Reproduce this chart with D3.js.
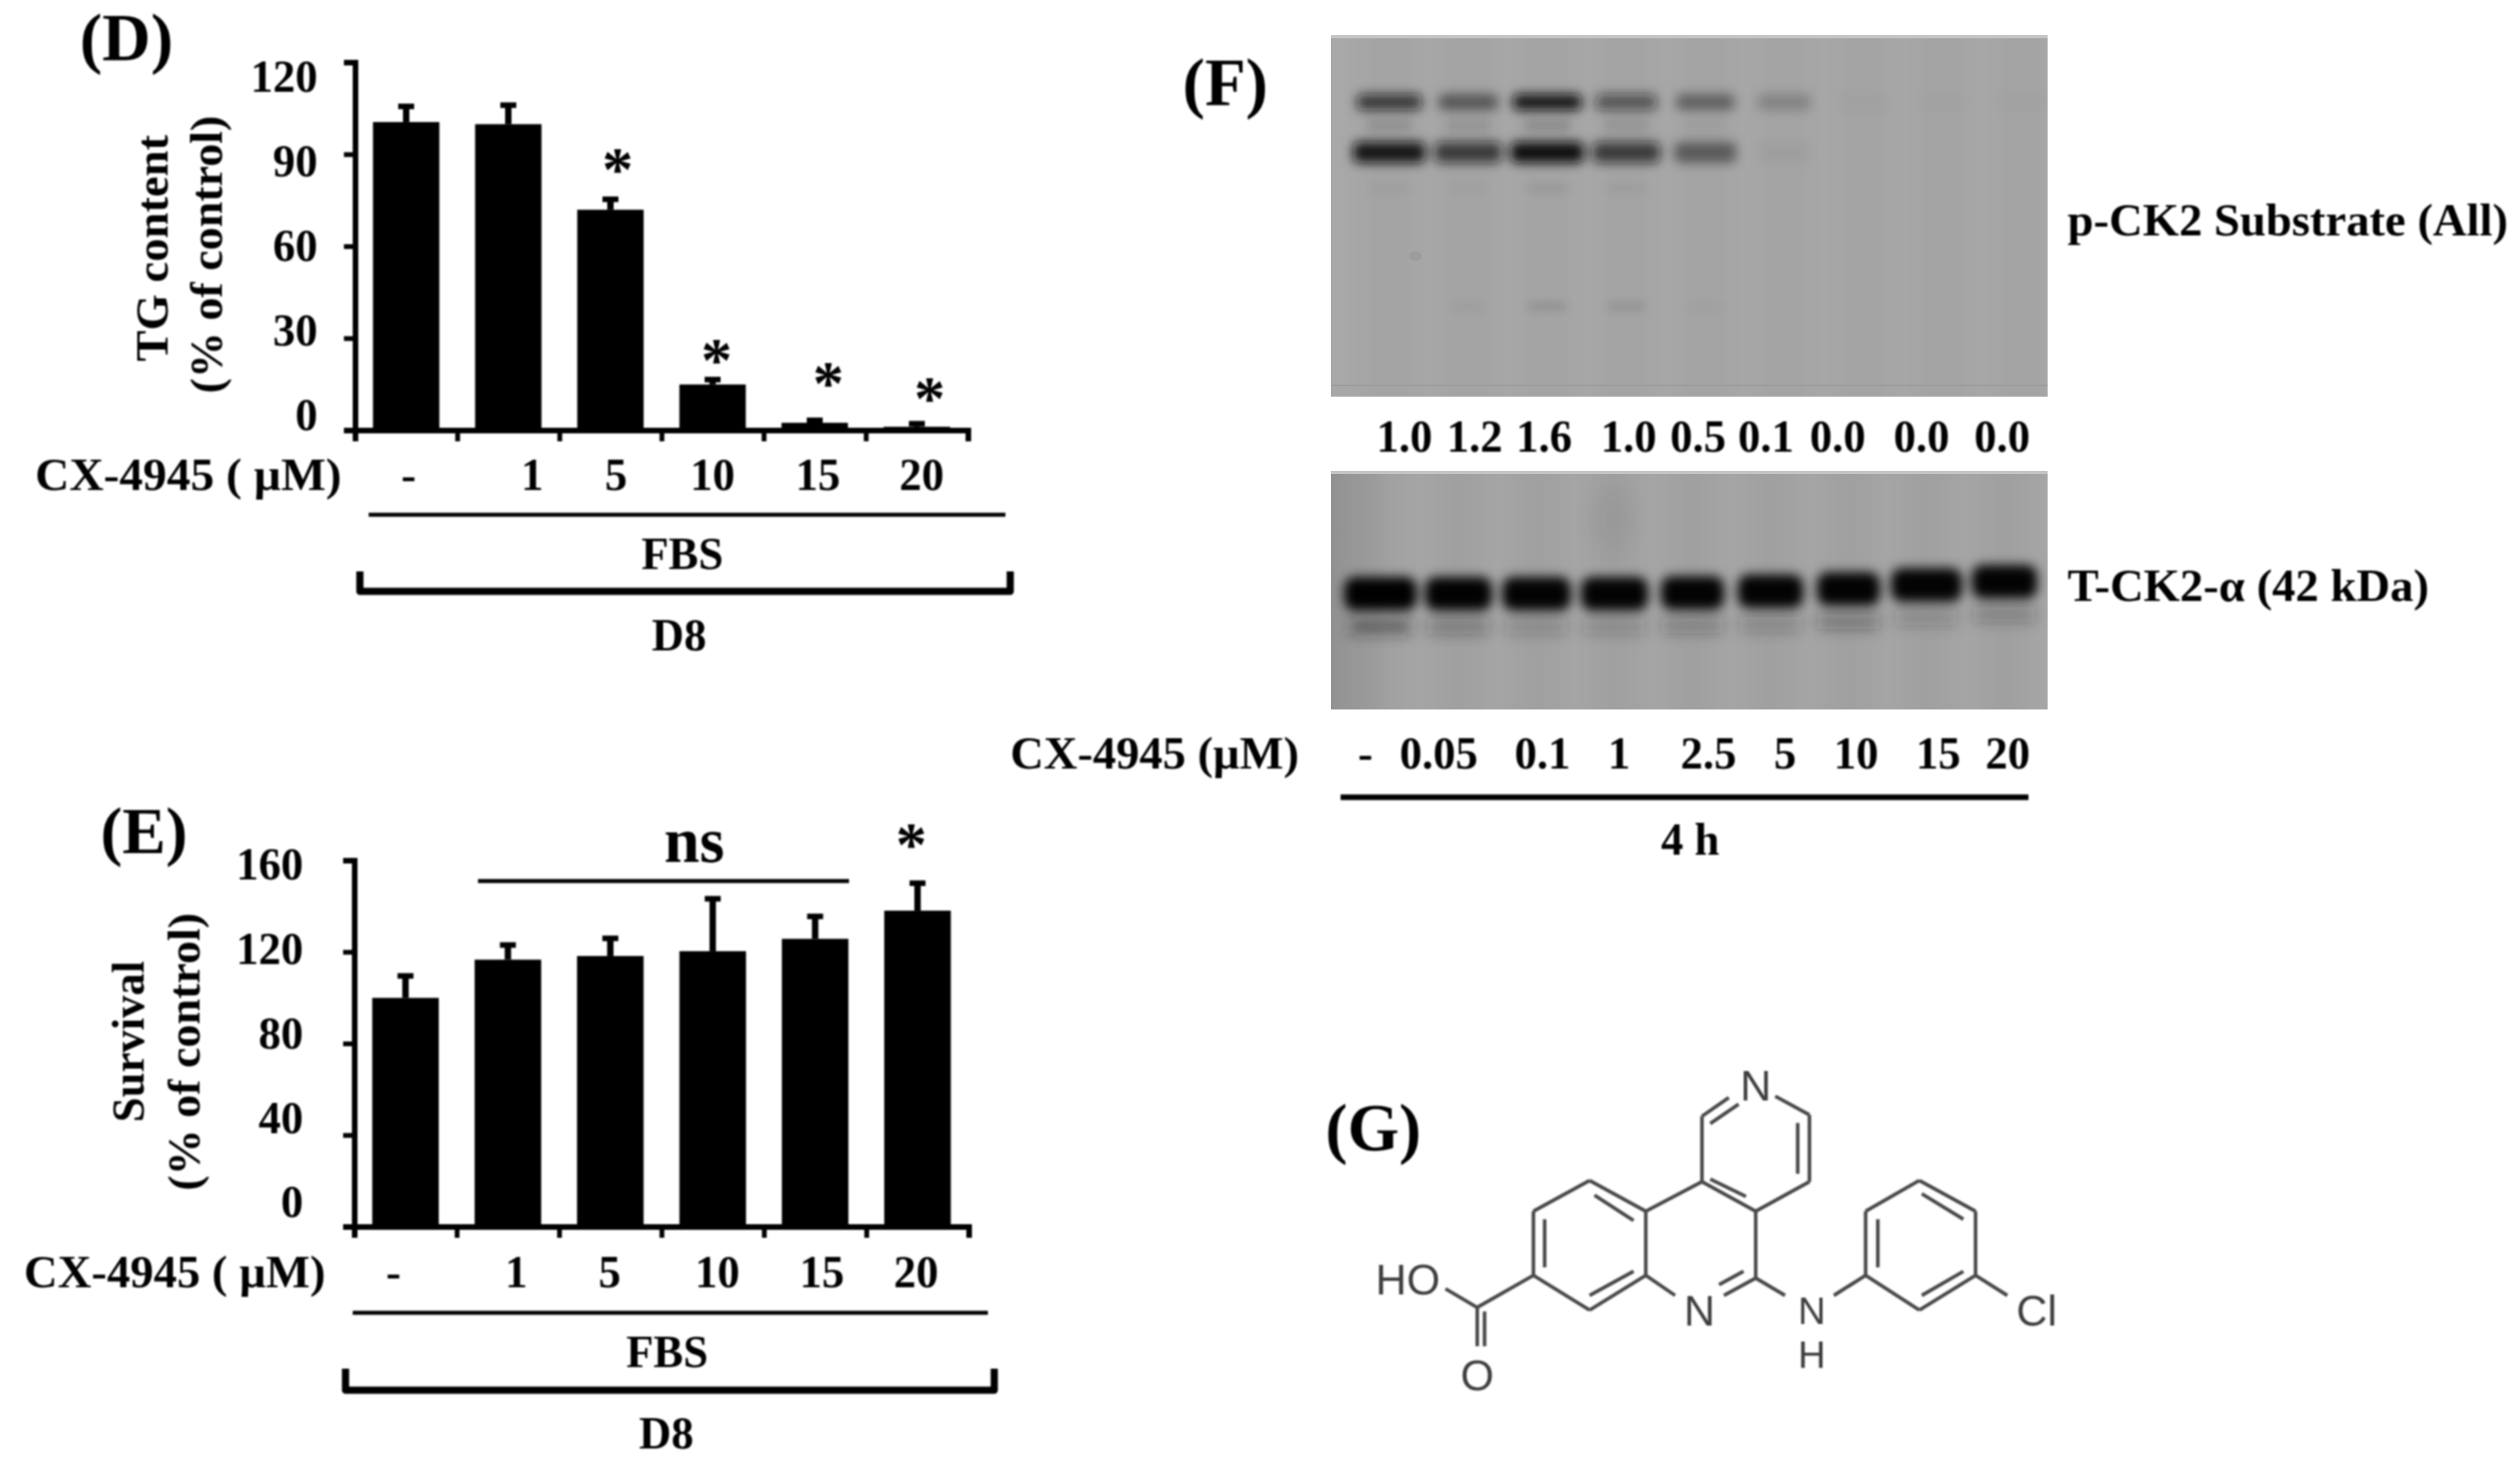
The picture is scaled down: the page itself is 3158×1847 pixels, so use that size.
<!DOCTYPE html>
<html><head><meta charset="utf-8">
<style>html,body{margin:0;padding:0;background:#fff}svg{display:block}
text{font-family:"Liberation Serif",serif;font-weight:bold;fill:#000}
.mol text{font-family:"Liberation Sans",sans-serif;font-weight:normal;fill:#3c3c3c}</style>
<script src="https://cdn.jsdelivr.net/npm/d3@7"></script></head><body>
<script>
// ---- data ----
const doseCats = ["-","1","5","10","15","20"];
const tgValues = [100.5,99.8,71.9,14.9,2.4,1.1];
const tgErrors = [105.6,106,75.3,16.5,3.2,2.1];
const tgTicks = [0,30,60,90,120];
const survivalValues = [99.9,116.6,118.2,120.3,125.7,138];
const survivalErrors = [109.5,123,125.9,143.2,135.5,150];
const survivalTicks = [0,40,80,120,160];
const blotDoses = ["-","0.05","0.1","1","2.5","5","10","15","20"];
const densitometry = ["1.0","1.2","1.6","1.0","0.5","0.1","0.0","0.0","0.0"];
const substrateUpper = [.74,.48,.95,.56,.42,.2,.02,.01,.01];
const substrateLower = [.95,.72,1,.72,.45,.03,0,0,0];
const substrateFaintA = [.12,.1,.15,.1,.04,0,0,0,0];
const substrateFaintB = [.05,.04,.09,.06,0,0,0,0,0];
const substrateFaintC = [0,.06,.17,.15,.04,0,0,0,0];
const tck2Band = [1,.99,.98,.98,.98,.98,.98,.98,.98];
const tck2Width = [95,88,90,88,83,86,83,93,86];
const tck2Shift = [0,0,0,0,1,3,6,11,15];
const tck2Lower = [.5,.32,.22,.22,.28,.24,.34,.22,.28];

// ---- layout (not data) ----
const W=3158,H=1847;
const svg=d3.select("body").append("svg").attr("width",W).attr("height",H).attr("viewBox",[0,0,W,H]);
const defs=svg.append("defs");
[["b1",1],["b7",7],["b6",6],["b9",9],["b14",14]].forEach(([id,s])=>defs.append("filter").attr("id",id)
  .attr("x","-50%").attr("y","-150%").attr("width","200%").attr("height","400%")
  .append("feGaussianBlur").attr("stdDeviation",s));
const leftFade=defs.append("linearGradient").attr("id","leftFade");
leftFade.append("stop").attr("offset",0).attr("stop-color","#000").attr("stop-opacity",.13);
leftFade.append("stop").attr("offset",1).attr("stop-color","#000").attr("stop-opacity",0);
const root=svg.append("g").attr("filter","url(#b1)");

function txt(x,y,s,size,anchor="middle",len=null,rot=0){
  const t=root.append("text").attr("font-size",size).attr("text-anchor",anchor).text(s);
  if(rot) t.attr("transform",`translate(${x},${y}) rotate(${rot})`); else t.attr("x",x).attr("y",y);
  if(len) t.attr("textLength",len).attr("lengthAdjust","spacingAndGlyphs");
  return t;
}
function line(x1,y1,x2,y2,w){root.append("line").attr("x1",x1).attr("y1",y1).attr("x2",x2).attr("y2",y2).attr("stroke","#000").attr("stroke-width",w);}

function barPanel(o){
  const x=d3.scaleBand().domain(o.cats).range(o.xr).paddingInner(.35).paddingOuter(.175);
  const xe=d3.scaleLinear().domain([0,o.cats.length]).range(o.xr);
  const y=d3.scaleLinear().domain(o.yd).range(o.yr);
  const yl=d3.scaleLinear().domain(o.yd).range(o.ylr);
  const g=root.append("g");
  g.selectAll("line.err").data(o.cats).join("line").attr("class","err")
    .attr("x1",d=>x(d)+x.bandwidth()/2).attr("x2",d=>x(d)+x.bandwidth()/2)
    .attr("y1",(d,i)=>y(o.vals[i])).attr("y2",(d,i)=>y(o.errs[i])).attr("stroke","#000").attr("stroke-width",8);
  g.selectAll("line.cap").data(o.cats).join("line").attr("class","cap")
    .attr("x1",d=>x(d)+x.bandwidth()/2-10).attr("x2",d=>x(d)+x.bandwidth()/2+10)
    .attr("y1",(d,i)=>y(o.errs[i])).attr("y2",(d,i)=>y(o.errs[i])).attr("stroke","#000").attr("stroke-width",7);
  g.selectAll("rect").data(o.cats).join("rect").attr("x",d=>x(d)).attr("width",x.bandwidth())
    .attr("y",(d,i)=>y(o.vals[i])).attr("height",(d,i)=>y(0)-y(o.vals[i])).attr("fill","#000");
  const ay=root.append("g").attr("transform",`translate(${o.xr[0]},0)`)
    .call(d3.axisLeft(y).tickValues(o.ticks).tickSize(14).tickFormat(""));
  const ax=root.append("g").attr("transform",`translate(0,${o.yr[0]})`)
    .call(d3.axisBottom(xe).tickValues(d3.range(o.cats.length+1)).tickSize(14).tickFormat(""));
  [ay,ax].forEach(a=>{a.selectAll("path").attr("stroke","#000").attr("stroke-width",7).attr("fill","none");
    a.selectAll("line").attr("stroke","#000").attr("stroke-width",6);});
  const al=root.append("g").attr("transform",`translate(${o.labelRight},0)`)
    .call(d3.axisLeft(yl).tickValues(o.ticks).tickSize(0).tickPadding(0));
  al.select(".domain").remove();
  al.selectAll("text").attr("font-size",56).attr("font-family","Liberation Serif").attr("font-weight","bold");
  o.cats.forEach((c,i)=>txt(o.catX[i],o.catY,c,56));
  txt(o.cxStart,o.catY,"CX-4945 ( µM)",56,"start",o.cxLen);
  line(o.lineX[0],o.lineY,o.lineX[1],o.lineY,5);
  txt(o.fbs[0],o.fbs[1],"FBS",56);
  txt(o.d8[0],o.d8[1],"D8",56);
  root.append("path").attr("d",`M${o.br[0]},${o.br[2]}V${o.br[3]}H${o.br[1]}V${o.br[2]}`)
    .attr("fill","none").attr("stroke","#000").attr("stroke-width",9).attr("stroke-linejoin","round");
}

barPanel({cats:doseCats,vals:tgValues,errs:tgErrors,ticks:tgTicks,yd:[0,120],xr:[445,1213],yr:[539,78],ylr:[521,97],labelRight:398,
  catX:[512,667,772,893,1025,1155],catY:614,cxStart:44,cxLen:384,lineX:[462,1260],lineY:645,fbs:[855,713],d8:[851,815],br:[451,1266,716,741]});
txt(100,76,"(D)",84,"start",117);
txt(210,311,"TG content",56,"middle",284,-90);
txt(278,319,"(% of control)",56,"middle",348,-90);
[[774,238],[898,477],[1038,506],[1165,525]].forEach(p=>txt(p[0],p[1],"*",78));

barPanel({cats:doseCats,vals:survivalValues,errs:survivalErrors,ticks:survivalTicks,yd:[0,160],xr:[444,1214],yr:[1537,1078],ylr:[1507,1084],labelRight:380,
  catX:[493,647,764,899,1030,1148],catY:1613,cxStart:30,cxLen:378,lineX:[442,1238],lineY:1645,fbs:[836,1713],d8:[835,1815],br:[433,1246,1715,1742]});
txt(126,1069,"(E)",82,"start",109);
txt(180,1305,"Survival",56,"middle",null,-90);
txt(250,1318,"(% of control)",56,"middle",348,-90);
txt(870,1080,"ns",80);
line(599,1104,1064,1104,5);
txt(1142,1084,"*",78);

// ---- blots ----
const blot=svg.append("g");
function lanes(o){
  const clip="c"+o.id;
  defs.append("clipPath").attr("id",clip).append("rect").attr("x",o.x).attr("y",o.y).attr("width",o.w).attr("height",o.h);
  const g=blot.append("g").attr("clip-path",`url(#${clip})`);
  g.append("rect").attr("x",o.x).attr("y",o.y).attr("width",o.w).attr("height",o.h).attr("fill",o.bg);
  return g;
}
const x1=d3.scalePoint().domain(d3.range(9)).range([1741,2533]);
const b1=lanes({id:1,x:1668,y:44,w:898,h:453,bg:"#a8a8a8"});
function bands(g,vals,yc,bw,bh,f){
  g.append("g").attr("filter",`url(#${f})`).selectAll("rect").data(vals).join("rect")
   .attr("x",(d,i)=>x1(i)-(bw*(.72+.28*d))/2).attr("width",d=>bw*(.72+.28*d))
   .attr("y",yc-bh/2).attr("height",bh).attr("rx",8).attr("fill","#0c0c0c").attr("opacity",d=>d);
}
// faint lane smears
b1.append("g").attr("filter","url(#b14)").selectAll("rect").data(d3.range(9)).join("rect")
  .attr("x",d=>x1(d)-32).attr("width",64).attr("y",20).attr("height",500).attr("fill","#000").attr("opacity",.025);
bands(b1,substrateFaintA,157,80,14,"b6");
bands(b1,substrateFaintB,236,72,8,"b6");
bands(b1,substrateFaintC,384,66,7,"b6");
bands(b1,substrateUpper,128,88,20,"b7");
bands(b1,substrateLower,191,92,26,"b7");
b1.append("ellipse").attr("cx",1774).attr("cy",321).attr("rx",8).attr("ry",6).attr("fill","#000").attr("opacity",.06);
b1.append("rect").attr("x",1668).attr("y",482).attr("width",898).attr("height",2).attr("fill","#9b9b9b");
b1.append("rect").attr("x",1668).attr("y",44).attr("width",898).attr("height",4).attr("fill","#c4c4c4");

const x2=d3.scalePoint().domain(d3.range(9)).range([1730,2512]);
const shift=d3.scaleLinear().domain([0,15]).range([744,729]);
const b2=lanes({id:2,x:1668,y:590,w:898,h:299,bg:"#a6a6a6"});
b2.append("rect").attr("x",1668).attr("y",590).attr("width",70).attr("height",299).attr("fill","url(#leftFade)");
b2.append("g").attr("filter","url(#b14)").selectAll("rect").data(d3.range(9)).join("rect")
  .attr("x",d=>x2(d)-30).attr("width",60).attr("y",570).attr("height",340).attr("fill","#000").attr("opacity",.03);
b2.append("ellipse").attr("cx",2020).attr("cy",650).attr("rx",28).attr("ry",45).attr("fill","#000").attr("opacity",.04).attr("filter","url(#b14)");
b2.append("g").attr("filter","url(#b9)").selectAll("rect").data(tck2Lower).join("rect")
  .attr("x",(d,i)=>x2(i)-38).attr("width",76).attr("y",(d,i)=>shift(tck2Shift[i])+32).attr("height",18).attr("fill","#202020").attr("opacity",d=>d);
b2.append("g").attr("filter","url(#b7)").selectAll("rect").data(tck2Band).join("rect")
  .attr("x",(d,i)=>x2(i)-tck2Width[i]/2+2).attr("width",(d,i)=>tck2Width[i]-4)
  .attr("y",(d,i)=>shift(tck2Shift[i])-21).attr("height",42).attr("rx",14).attr("fill","#000").attr("opacity",d=>d);
b2.append("rect").attr("x",1668).attr("y",590).attr("width",898).attr("height",4).attr("fill","#c4c4c4");

const densX=[1760,1848,1935,2041,2128,2213,2303,2408,2509];
densitometry.forEach((d,i)=>txt(densX[i],566,d,56));
txt(2591,295,"p-CK2 Substrate (All)",56,"start",552);
txt(2591,753,"T-CK2-α (42 kDa)",56,"start",453);
txt(1482,132,"(F)",84,"start",107);
txt(1266,963,"CX-4945 (µM)",56,"start",362);
const doseX=[1711,1803,1933,2029,2141,2237,2326,2429,2516];
blotDoses.forEach((d,i)=>txt(doseX[i],963,d,56));
line(1680,999,2542,999,7);
txt(2118,1071,"4 h",56);

// ---- panel G: CX-4945 structure (drawing coordinates of the molecule) ----
txt(1661,1442,"(G)",84,"start",120);
const mx=d3.scaleLinear().domain([0,1568]).range([1640,2600]);
const my=d3.scaleLinear().domain([0,1343]).range([1320,1770]);
const bonds=[
 [860,165,805,235],[880,190,822,262],[955,160,1025,230],[1025,230,1025,480],[1001,260,1001,450],[1025,480,915,590],
 [915,590,805,480],[895,535,822,470],[805,480,805,235],
 [575,475,690,590],[585,530,665,625],[690,590,690,830],[690,830,575,960],[575,905,665,815],[575,960,460,830],
 [460,830,460,590],[483,800,483,620],[460,590,575,475],[690,590,805,480],
 [915,590,915,840],[915,840,850,905],[890,815,840,865],[690,830,750,905],[915,840,975,905],[1075,905,1140,830],
 [1140,830,1140,590],[1165,800,1165,620],[1140,590,1250,475],[1250,475,1365,590],[1255,525,1340,620],[1365,590,1365,830],
 [1365,830,1250,960],[1255,905,1340,815],[1250,960,1140,830],[1365,830,1430,905],
 [460,830,345,950],[345,950,280,880],[345,950,345,1095],[360,965,360,1095]];
const mol=root.append("g").attr("class","mol");
mol.selectAll("line").data(bonds).join("line")
  .attr("x1",d=>mx(d[0])).attr("y1",d=>my(d[1])).attr("x2",d=>mx(d[2])).attr("y2",d=>my(d[3]))
  .attr("stroke","#4a4a4a").attr("stroke-width",4.5);
const atoms=[["N",915,175,54],["N",800,1018,54],["N",1030,1012,48],["H",1030,1176,48],["Cl",1490,1018,54],["HO",203,900,54],["O",345,1258,54]];
mol.selectAll("text.a").data(atoms).join("text").attr("class","a").attr("text-anchor","middle").attr("font-size",d=>d[3])
  .attr("x",d=>mx(d[1])).attr("y",d=>my(d[2])).text(d=>d[0]);
</script></body></html>
